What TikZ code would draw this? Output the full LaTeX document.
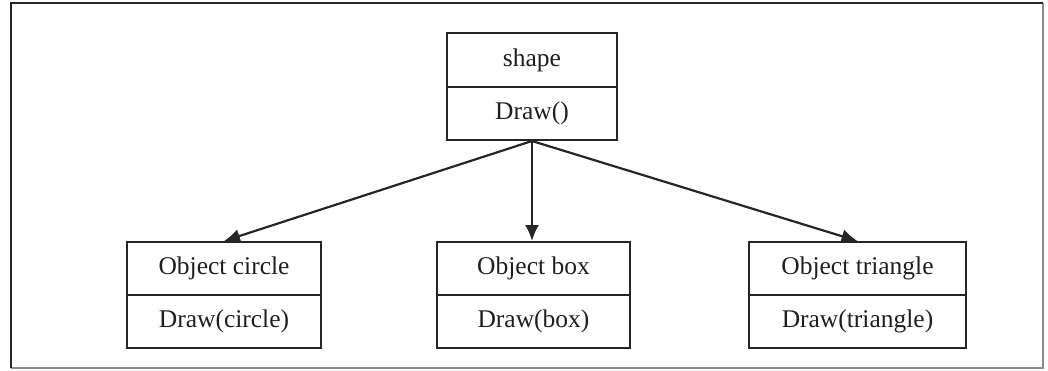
\documentclass[tikz,border=0pt]{standalone}
\usepackage{fontspec}
\setmainfont{Liberation Serif}
\usetikzlibrary{arrows.meta}
\begin{document}
\begin{tikzpicture}[x=1pt,y=-1pt,
  cell/.style={draw=black!85,line width=2pt,inner sep=0pt,minimum height=53pt,
    font=\fontsize{25.5}{30}\selectfont,text=black!88},
  link/.style={line width=2.2pt,draw=black!85,-{Latex[length=16pt,width=14pt]}}]
\useasboundingbox (0,0) rectangle (1048,370);
% outer frame
\draw[black!45,line width=1.4pt] (1043,3) -- (1043,368) -- (11,368);
\draw[black!85,line width=2.8pt] (11,368) -- (11,3) -- (1043,3);
% top class
\node[cell,minimum width=170pt,minimum height=54pt] (shapeA) at (532,60) {shape};
\node[cell,minimum width=170pt] (shapeB) at (532,113.5) {Draw()};
% left class
\node[cell,minimum width=194pt] (circA) at (224,268.5) {Object circle};
\node[cell,minimum width=194pt] (circB) at (224,321.5) {Draw(circle)};
% middle class
\node[cell,minimum width=193pt] (boxA) at (533.5,268.5) {Object box};
\node[cell,minimum width=193pt] (boxB) at (533.5,321.5) {Draw(box)};
% right class
\node[cell,minimum width=217pt] (triA) at (857.5,268.5) {Object triangle};
\node[cell,minimum width=217pt] (triB) at (857.5,321.5) {Draw(triangle)};
% connectors
\draw[link] (shapeB.south) -- (circA.north);
\draw[link] (shapeB.south) -- (shapeB.south |- boxA.north);
\draw[link] (shapeB.south) -- (triA.north);
\end{tikzpicture}
\end{document}
